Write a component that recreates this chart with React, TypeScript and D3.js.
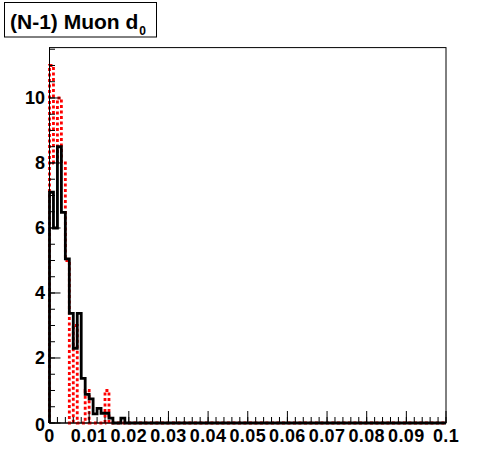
import React from "react";
import * as d3 from "d3";

// bin width 0.001, first 20 bins of the 100; the rest are empty
const binWidth = 0.001;
const muonD0Black = [7.1, 6.0, 8.5, 6.48, 5.05, 3.37, 2.3, 3.37, 1.37, 0.88, 0.74, 0.28, 0.45, 0.3, 0.3, 0.15, 0, 0, 0.15, 0];
const muonD0Red = [11, 8, 10, 8, 5, 0, 3, 0, 0, 1, 0, 0, 0, 0, 1, 0, 0, 0, 0, 0];

const xTicks = [0, 0.01, 0.02, 0.03, 0.04, 0.05, 0.06, 0.07, 0.08, 0.09, 0.1];
const xTickLabels = ["0", "0.01", "0.02", "0.03", "0.04", "0.05", "0.06", "0.07", "0.08", "0.09", "0.1"];
const yTicks = [0, 2, 4, 6, 8, 10];

const W = 496;
const H = 472;
const FONT = "'Liberation Sans', Arial, Helvetica, sans-serif";

function App() {
  const xScale = d3.scaleLinear().domain([0, 0.1]).range([49.5, 446]);
  const yMax = d3.max(muonD0Red)! * 1.05;
  const yScale = d3.scaleLinear().domain([0, yMax]).range([423, 47.6]);

  // step outline like ROOT's HIST option
  const histPoints = (vals: number[]) => {
    const pts: [number, number][] = [[0, 0]];
    vals.forEach((v, i) => {
      pts.push([i * binWidth, v]);
      pts.push([(i + 1) * binWidth, v]);
    });
    pts.push([vals.length * binWidth, 0]);
    pts.push([0.1, 0]);
    return pts;
  };
  const line = d3
    .line<[number, number]>()
    .x(d => xScale(d[0]))
    .y(d => yScale(d[1]));

  const xMinor = d3.range(0, 0.1 + 1e-9, 0.002);
  const yMinor = d3.range(0, yMax, 0.5);

  const x0 = xScale(0);
  const y0 = yScale(0);

  return (
    <svg width={W} height={H} style={{ position: "absolute", left: 0, top: 0, background: "#fff" }}>
      <rect x={0} y={0} width={W} height={H} fill="#fff" />

      {/* frame */}
      <rect
        x={xScale(0)}
        y={yScale(yMax)}
        width={xScale(0.1) - xScale(0)}
        height={yScale(0) - yScale(yMax)}
        fill="none"
        stroke="#000"
        strokeWidth={1}
      />

      {/* histograms */}
      <path d={line(histPoints(muonD0Red)) || ""} fill="none" stroke="#ff0000" strokeWidth={2.8} strokeDasharray="3,2.5" />
      <path d={line(histPoints(muonD0Black)) || ""} fill="none" stroke="#000" strokeWidth={2.8} strokeLinejoin="miter" />

      {/* x axis ticks */}
      {xMinor.map((t, i) => (
        <line key={"xm" + i} x1={xScale(t)} x2={xScale(t)} y1={y0} y2={y0 - 6} stroke="#000" strokeWidth={1} />
      ))}
      {xTicks.map((t, i) => (
        <line key={"xM" + i} x1={xScale(t)} x2={xScale(t)} y1={y0} y2={y0 - 12} stroke="#000" strokeWidth={1} />
      ))}
      {xTicks.map((t, i) => (
        <text
          key={"xl" + i}
          x={xScale(t)}
          y={442}
          textAnchor="middle"
          fontFamily={FONT}
          fontWeight="bold"
          fontSize={18}
          letterSpacing={0.4}
        >
          {xTickLabels[i]}
        </text>
      ))}

      {/* y axis ticks */}
      {yMinor.map((t, i) => (
        <line key={"ym" + i} x1={x0} x2={x0 + 5.5} y1={yScale(t)} y2={yScale(t)} stroke="#000" strokeWidth={1} />
      ))}
      {yTicks.map((t, i) => (
        <text
          key={"yl" + i}
          x={45}
          y={yScale(t) + (t === 0 ? 2 : 0)}
          dy="0.36em"
          textAnchor="end"
          fontFamily={FONT}
          fontWeight="bold"
          fontSize={18}
        >
          {t}
        </text>
      ))}
      {yTicks.map((t, i) => (
        <line key={"yM" + i} x1={x0} x2={x0 + 11} y1={yScale(t)} y2={yScale(t)} stroke="#000" strokeWidth={1} />
      ))}

      {/* axis lines */}
      <line x1={x0} x2={xScale(0.1)} y1={y0} y2={y0} stroke="#000" strokeWidth={1} />
      <line x1={x0} x2={x0} y1={y0} y2={yScale(yMax)} stroke="#000" strokeWidth={1} />

      {/* title box */}
      <rect x={4.5} y={2.5} width={152} height={34.5} fill="#fff" stroke="#000" strokeWidth={1} />
      <text x={10} y={28.5} fontFamily={FONT} fontWeight="bold" fontSize={21}>
        (N-1) Muon d
        <tspan fontSize={12} dy={6} dx={1}>0</tspan>
      </text>
    </svg>
  );
}

export default App;
